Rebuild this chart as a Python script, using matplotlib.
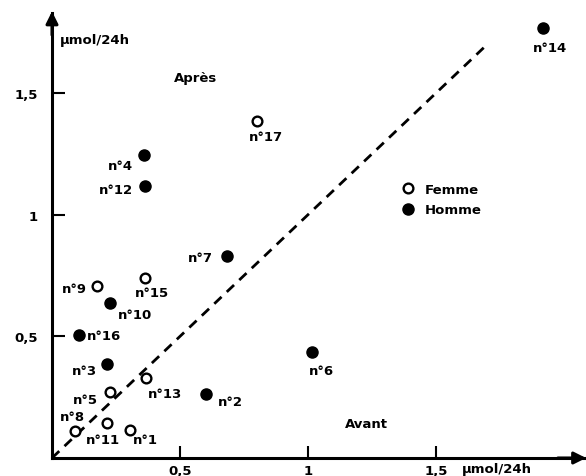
import matplotlib
matplotlib.use("Agg")
import matplotlib.pyplot as plt

plt.rcParams['font.family'] = ['DejaVu Sans']
plt.rcParams['font.weight'] = 'bold'

# --- data (Avant, Après) in µmol/24h ---
femme_ids = ["n°1", "n°5", "n°8", "n°9", "n°11", "n°13", "n°15", "n°17"]
femme_avant = [0.305, 0.227, 0.090, 0.176, 0.215, 0.367, 0.363, 0.801]
femme_apres = [0.115, 0.271, 0.111, 0.707, 0.144, 0.329, 0.740, 1.385]

homme_ids = ["n°2", "n°3", "n°4", "n°6", "n°7", "n°10", "n°12", "n°14", "n°16"]
homme_avant = [0.602, 0.215, 0.359, 1.016, 0.684, 0.227, 0.363, 1.918, 0.105]
homme_apres = [0.263, 0.386, 1.245, 0.436, 0.830, 0.637, 1.118, 1.767, 0.506]

tick_values = [0.5, 1, 1.5]
tick_labels = ["0,5", "1", "1,5"]
diag = [0, 1.69]

# label placement (pixel offsets, horizontal alignment)
label_place = {
    "n°1": (3, -9, 'left'), "n°5": (-12, -7, 'right'), "n°8": (-3, 14, 'center'),
    "n°9": (-10, -3, 'right'), "n°11": (-4, -17, 'center'), "n°13": (2, -16, 'left'),
    "n°15": (-10, -15, 'left'), "n°17": (9, -15, 'center'), "n°2": (12, -7, 'left'),
    "n°3": (-10, -6, 'right'), "n°4": (-11, -10, 'right'), "n°6": (9, -19, 'center'),
    "n°7": (-14, -1, 'right'), "n°10": (8, -11, 'left'), "n°12": (-12, -4, 'right'),
    "n°14": (7, -19, 'center'), "n°16": (8, -1, 'left'),
}

FS = 9.5
W, H = 586, 477
fig = plt.figure(figsize=(W / 100, H / 100), dpi=100)
x0, y0 = 52, 459
sx, sy = 256, 243.3
xmax, ymax = 2.08, 1.83
ax = fig.add_axes([x0 / W, (H - y0) / H, xmax * sx / W, ymax * sy / H])
ax.set_xlim(0, xmax)
ax.set_ylim(0, ymax)

for s in ['top', 'right']:
    ax.spines[s].set_visible(False)
for s in ['left', 'bottom']:
    ax.spines[s].set_linewidth(2.2)

ax.set_xticks(tick_values)
ax.set_xticklabels(tick_labels)
ax.set_yticks(tick_values)
ax.set_yticklabels(tick_labels)
ax.tick_params(axis='both', direction='in', length=9, width=1.5, labelsize=FS)
ax.tick_params(axis='y', pad=10)
ax.tick_params(axis='x', pad=4)
for lab in ax.get_xticklabels() + ax.get_yticklabels():
    lab.set_fontweight('bold')

# axis arrows
ax.annotate('', xy=(1.003, 0), xytext=(0.95, 0), xycoords='axes fraction',
            arrowprops=dict(arrowstyle='-|>', color='k', lw=2.2, mutation_scale=18,
                            shrinkA=0, shrinkB=0), annotation_clip=False)
ax.annotate('', xy=(0, 1.003), xytext=(0, 0.95), xycoords='axes fraction',
            arrowprops=dict(arrowstyle='-|>', color='k', lw=2.2, mutation_scale=18,
                            shrinkA=0, shrinkB=0), annotation_clip=False)

# diagonal
ax.plot(diag, diag, color='k', lw=2.0, dashes=(3.6, 2.6))

ax.plot(femme_avant, femme_apres, linestyle='none', marker='o', markersize=7,
        markerfacecolor='white', markeredgecolor='k', markeredgewidth=1.7,
        label='Femme', clip_on=False, zorder=3)
ax.plot(homme_avant, homme_apres, linestyle='none', marker='o', markersize=8,
        markerfacecolor='k', markeredgecolor='k', label='Homme', clip_on=False, zorder=3)

for ids, xs, ys in [(femme_ids, femme_avant, femme_apres), (homme_ids, homme_avant, homme_apres)]:
    for name, xv, yv in zip(ids, xs, ys):
        dx, dy, ha = label_place[name]
        ax.annotate(name, (xv, yv), xytext=(dx, dy), textcoords='offset pixels',
                    ha=ha, va='center', fontsize=FS, fontweight='bold')

ax.text(0.03, 1.72, "µmol/24h", ha='left', va='center', fontsize=FS, fontweight='bold')
ax.text(1.60, -0.045, "µmol/24h", ha='left', va='center', fontsize=FS, fontweight='bold',
        clip_on=False)
ax.text(0.56, 1.565, "Après", ha='center', va='center', fontsize=FS, fontweight='bold')
ax.text(1.23, 0.14, "Avant", ha='center', va='center', fontsize=FS, fontweight='bold')

ax.legend(loc='center left', bbox_to_anchor=(401 / W, 1 - 200.5 / H),
          bbox_transform=fig.transFigure, frameon=False, handlelength=1.0,
          handletextpad=0.8, borderpad=0, borderaxespad=0, labelspacing=0.6,
          prop={'size': FS, 'weight': 'bold'})

fig.savefig("out.png", dpi=100)
